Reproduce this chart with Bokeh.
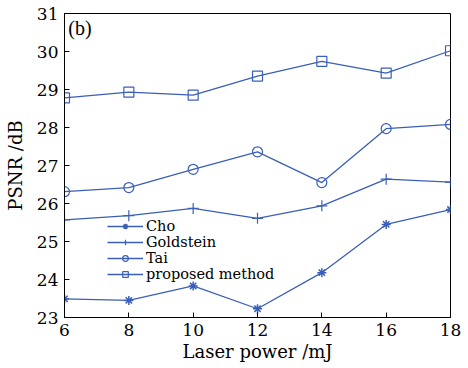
from bokeh.plotting import figure
from bokeh.models import Range1d, Legend, LegendItem, FixedTicker
from bokeh.embed import file_html
from bokeh.resources import INLINE

power = [6, 8, 10, 12, 14, 16, 18]
cho = [23.49, 23.45, 23.83, 23.23, 24.18, 25.45, 25.84]
goldstein = [25.57, 25.68, 25.87, 25.61, 25.94, 26.64, 26.56]
tai = [26.31, 26.42, 26.90, 27.36, 26.55, 27.97, 28.08]
proposed = [28.78, 28.93, 28.85, 29.35, 29.74, 29.43, 30.02]
x_ticks = [6, 8, 10, 12, 14, 16, 18]
y_ticks = [23, 24, 25, 26, 27, 28, 29, 30, 31]

BLUE = "#3a5fb8"
FONT = "DejaVu Serif"

p = figure(width=468, height=368, output_backend="svg", toolbar_location=None,
           x_range=Range1d(6, 18), y_range=Range1d(23, 31),
           min_border_left=64, min_border_right=18, min_border_top=13, min_border_bottom=51)
p.background_fill_color = "white"
p.border_fill_color = "white"
p.outline_line_color = "black"
p.outline_line_width = 1
p.grid.visible = False

for ax in (p.xaxis[0], p.yaxis[0]):
    ax.major_tick_in = 5
    ax.major_tick_out = 0
    ax.minor_tick_in = 0
    ax.minor_tick_out = 0
    ax.axis_line_color = "black"
    ax.major_tick_line_color = "black"
    ax.major_label_text_font = FONT
    ax.major_label_text_font_size = "17px"
    ax.major_label_text_color = "black"
    ax.axis_label_text_font = FONT
    ax.axis_label_text_font_size = "18px"
    ax.axis_label_text_font_style = "normal"
    ax.axis_label_text_color = "black"

p.xaxis.ticker = FixedTicker(ticks=x_ticks)
p.yaxis.ticker = FixedTicker(ticks=y_ticks)
p.xaxis.axis_label = "Laser power /mJ"
p.yaxis.axis_label = "PSNR /dB"
p.xaxis.major_label_standoff = 6
p.yaxis.major_label_standoff = 6
p.xaxis.axis_label_standoff = 2
p.yaxis.axis_label_standoff = 8

lw = 1.3
l1 = p.line(power, cho, color=BLUE, line_width=lw)
m1 = p.scatter(power, cho, marker="asterisk", size=9, line_color=BLUE, line_width=1.5)
l2 = p.line(power, goldstein, color=BLUE, line_width=lw)
m2 = p.scatter(power, goldstein, marker="cross", size=11, line_color=BLUE, line_width=1.2)
l3 = p.line(power, tai, color=BLUE, line_width=lw)
m3 = p.scatter(power, tai, marker="circle", size=10, line_color=BLUE, fill_color=None, line_width=1.2)
l4 = p.line(power, proposed, color=BLUE, line_width=lw)
m4 = p.scatter(power, proposed, marker="square", size=10, line_color=BLUE, fill_color=None, line_width=1.2)

p.text(x=[6.12], y=[30.62], text=["(b)"], text_font=FONT, text_font_size="20px",
       text_color="black", text_baseline="middle", text_align="left")

legend = Legend(items=[
    LegendItem(label="Cho", renderers=[l1, m1]),
    LegendItem(label="Goldstein", renderers=[l2, m2]),
    LegendItem(label="Tai", renderers=[l3, m3]),
    LegendItem(label="proposed method", renderers=[l4, m4]),
], location=(43, 35))
legend.background_fill_alpha = 0
legend.border_line_alpha = 0
legend.padding = 0
legend.margin = 0
legend.spacing = 0
legend.glyph_width = 36
legend.glyph_height = 14
legend.label_height = 14
legend.label_standoff = 3
legend.label_text_font = FONT
legend.label_text_font_size = "14.5px"
legend.label_text_line_height = 1.0
legend.label_text_color = "black"
p.add_layout(legend, "center")

open("out.html", "w").write(file_html(p, INLINE))
